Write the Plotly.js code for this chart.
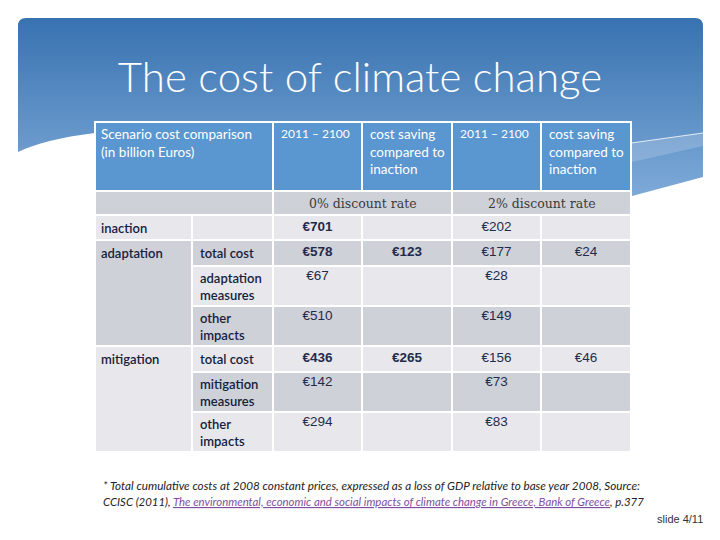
<!DOCTYPE html>
<html>
<head>
<meta charset="utf-8">
<script src="https://cdn.plot.ly/plotly-3.0.1.min.js"></script>
<style>html,body{margin:0;padding:0;background:#fff;}#chart{width:720px;height:540px;}</style>
</head>
<body>
<div id="chart"></div>
<script>
// ---- data ----
const titleText = "The cost of climate change";
const headerLabels = ["Scenario cost comparison<br>(in billion Euros)", "2011 – 2100", "cost saving<br>compared to<br>inaction", "2011 – 2100", "cost saving<br>compared to<br>inaction"];
const discountRates = ["0% discount rate", "2% discount rate"];
const scenarios = ["inaction", "adaptation", "mitigation"];
const scenarioRowCounts = [1, 3, 3];
const components = ["", "total cost", "adaptation<br>measures", "other<br>impacts", "total cost", "mitigation<br>measures", "other<br>impacts"];
const cost0 = [701, 578, 67, 510, 436, 142, 294];
const saving0 = [null, 123, null, null, 265, null, null];
const cost2 = [202, 177, 28, 149, 156, 73, 83];
const saving2 = [null, 24, null, null, 46, null, null];
const footnote1 = "* Total cumulative costs at 2008 constant prices, expressed as a loss of GDP relative to base year 2008, Source:";
const footnoteSource = "CCISC (2011), ";
const footnoteLink = "The environmental, economic and social impacts of climate change in Greece, Bank of Greece";
const footnoteEnd = ", p.377";
const slideLabel = "slide 4/11";

// ---- layout geometry ----
const colEdges = [95, 192, 273, 362, 452, 541, 631];
const rowEdges = [122, 191, 215, 240, 266, 306, 346, 372, 412, 452];
const HEAD = "#5a96cf", DARK = "#cfd1d9", LIGHT = "#e8e8ec";
const labelColor = "#15213f";
const labelFont = "Lato, 'Open Sans', sans-serif";

const shapes = [];
const ann = [];
function cell(x0, x1, y0, y1, fill) {
  shapes.push({type: "rect", xref: "x", yref: "y", x0: x0, x1: x1, y0: y0, y1: y1,
    fillcolor: fill, line: {color: "white", width: 2}, layer: "below"});
}
function label(x, y, text, opts) {
  ann.push(Object.assign({xref: "x", yref: "y", x: x, y: y, text: text, showarrow: false,
    xanchor: "left", yanchor: "top", align: "left",
    font: {family: labelFont, size: 13, color: labelColor, weight: 600}}, opts || {}));
}

// header row
cell(colEdges[0], colEdges[2], rowEdges[0], rowEdges[1], HEAD);
label(colEdges[0] + 4, rowEdges[0] + 2, headerLabels[0], {font: {family: labelFont, size: 13.5, color: "white"}});
for (let c = 1; c < headerLabels.length; c++) {
  cell(colEdges[c + 1], colEdges[c + 2], rowEdges[0], rowEdges[1], HEAD);
  label(colEdges[c + 1] + 6, rowEdges[0] + 2, headerLabels[c], {font: {family: labelFont, size: c % 2 ? 12 : 13.5, color: "white"}});
}
// discount rate row
cell(colEdges[0], colEdges[2], rowEdges[1], rowEdges[2], DARK);
discountRates.forEach((t, k) => {
  const x0 = colEdges[2 + 2 * k], x1 = colEdges[4 + 2 * k];
  cell(x0, x1, rowEdges[1], rowEdges[2], DARK);
  label((x0 + x1) / 2, (rowEdges[1] + rowEdges[2]) / 2, t,
    {xanchor: "center", yanchor: "middle", font: {family: "'DejaVu Serif', serif", size: 12.5, color: "#3a3a3a"}});
});
// body rows
const isTall = components.map(c => c.indexOf("<br>") >= 0);
for (let i = 0; i < components.length; i++) {
  const y0 = rowEdges[2 + i], y1 = rowEdges[3 + i];
  const fill = i % 2 === 0 ? LIGHT : DARK;
  for (let c = 1; c < 6; c++) cell(colEdges[c], colEdges[c + 1], y0, y1, fill);
  if (components[i]) {
    label(colEdges[1] + 6, isTall[i] ? y0 + 2 : (y0 + y1) / 2, components[i], isTall[i] ? {} : {yanchor: "middle"});
  }
}
// scenario column (merged blocks)
let r = 0;
scenarios.forEach((s, k) => {
  const y0 = rowEdges[2 + r], y1 = rowEdges[2 + r + scenarioRowCounts[k]];
  cell(colEdges[0], colEdges[1], y0, y1, k === 1 ? DARK : LIGHT);
  label(colEdges[0] + 4, (rowEdges[2 + r] + rowEdges[3 + r]) / 2, s, {yanchor: "middle"});
  r += scenarioRowCounts[k];
});

// values as a text trace
const vx = [], vy = [], vt = [];
const cols = [cost0, saving0, cost2, saving2];
const boldCol = [true, true, false, false];
cols.forEach((arr, ci) => {
  const xc = (colEdges[2 + ci] + colEdges[3 + ci]) / 2;
  arr.forEach((v, i) => {
    if (v === null) return;
    const y0 = rowEdges[2 + i], y1 = rowEdges[3 + i];
    vx.push(xc);
    vy.push(isTall[i] ? y0 + 11 : (y0 + y1) / 2);
    const s = "€" + v;
    vt.push(boldCol[ci] && !isTall[i] ? "<b>" + s + "</b>" : s);
  });
});
const valueTrace = {
  type: "scatter", mode: "text", x: vx, y: vy, text: vt,
  textposition: "middle center", hoverinfo: "skip", showlegend: false,
  textfont: {family: "'Liberation Sans', Arial, sans-serif", size: 13.5, color: "#1f2b4d"}
};

// footnotes
ann.push({xref: "x", yref: "y", x: 101, y: 485, xanchor: "left", yanchor: "middle", showarrow: false,
  text: "<i>" + footnote1 + "</i>", font: {family: labelFont, size: 11.7, color: "#222"}});
ann.push({xref: "x", yref: "y", x: 101, y: 501, xanchor: "left", yanchor: "middle", showarrow: false,
  text: "<i>" + footnoteSource + "<span style='color:#7e4f9e'><u>" + footnoteLink + "</u></span>" + footnoteEnd + "</i>",
  font: {family: labelFont, size: 11.4, color: "#222"}});
ann.push({xref: "x", yref: "y", x: 705, y: 519, xanchor: "right", yanchor: "middle", showarrow: false,
  text: slideLabel, font: {family: "'Liberation Sans', Arial, sans-serif", size: 11, color: "#333"}});

// decorative background
const svg = "<svg xmlns='http://www.w3.org/2000/svg' width='720' height='540' viewBox='0 0 720 540'>" +
  "<defs><linearGradient id='g' gradientUnits='userSpaceOnUse' x1='0' y1='18' x2='0' y2='200'>" +
  "<stop offset='0' stop-color='#3872b0'/><stop offset='1' stop-color='#7fabd9'/></linearGradient></defs>" +
  "<path d='M18,26 Q18,18 26,18 L695,18 Q703,18 703,26 L703,177 L632,196 L400,170 L95,133 C60,137 35,144 18,152 Z' fill='url(#g)'/>" +
  "<path d='M610,146 L703,133 L703,146 L632,162 Z' fill='#ffffff' fill-opacity='0.18'/>" +
  "<path d='M610,146 L703,133' stroke='#ffffff' stroke-width='0.8' fill='none'/>" +
  "</svg>";

const layout = {
  width: 720, height: 540,
  margin: {l: 0, r: 0, t: 0, b: 0},
  paper_bgcolor: "white", plot_bgcolor: "rgba(0,0,0,0)",
  title: {text: titleText, x: 0.5, xanchor: "center", y: 0.857, yanchor: "middle",
    font: {family: labelFont, size: 42, color: "white", weight: 300}},
  xaxis: {range: [0, 720], visible: false, fixedrange: true},
  yaxis: {range: [540, 0], visible: false, fixedrange: true},
  showlegend: false,
  shapes: shapes,
  annotations: ann,
  images: [{source: "data:image/svg+xml;charset=utf-8," + encodeURIComponent(svg),
    xref: "paper", yref: "paper", x: 0, y: 1, sizex: 1, sizey: 1,
    xanchor: "left", yanchor: "top", sizing: "stretch", layer: "below"}]
};

Plotly.newPlot("chart", [valueTrace], layout, {staticPlot: true, displayModeBar: false});
</script>
</body>
</html>
